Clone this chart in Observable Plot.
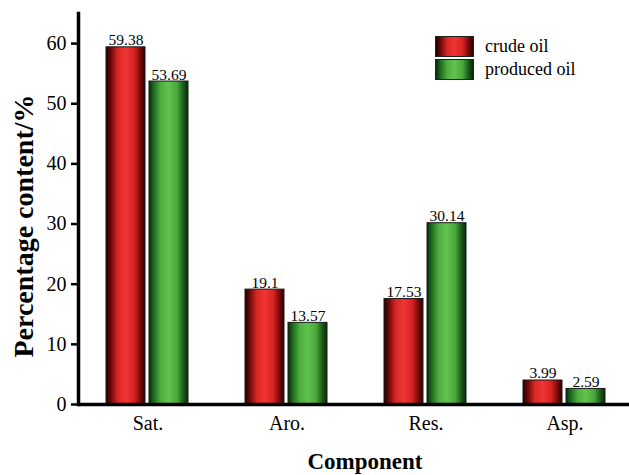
<!DOCTYPE html>
<html><head><meta charset="utf-8">
<script src="https://cdn.jsdelivr.net/npm/d3@7"></script>
<script src="https://cdn.jsdelivr.net/npm/@observablehq/plot@0.6"></script>
<style>
body{margin:0;background:#fff;}
#wrap{position:relative;width:629px;height:475px;overflow:hidden;}
#legend{position:absolute;left:435px;top:36px;font-family:"Liberation Serif",serif;font-size:18px;color:#000;}
.item{display:flex;align-items:center;height:21px;margin-bottom:2px;}
.sw{width:37px;height:19px;border:1px solid #222;margin-right:11px;box-sizing:content-box;}
</style></head><body><div id="wrap"><div id="legend"></div></div>
<script>
const categories = ["Sat.", "Aro.", "Res.", "Asp."];
const series = ["crude oil", "produced oil"];
const crudeOil = [59.38, 19.1, 17.53, 3.99];
const producedOil = [53.69, 13.57, 30.14, 2.59];
const yTicks = [0, 10, 20, 30, 40, 50, 60];
const xTitle = "Component";
const yTitle = "Percentage content/%";

const seriesValues = [crudeOil, producedOil];
const data = categories.flatMap((c, i) => series.map((s, j) => ({category: c, series: s, value: seriesValues[j][i]})));

const gradIds = ["gradRed", "gradGreen"];
const gradStops = [
  [["0", "#220000"], ["0.12", "#6a0808"], ["0.3", "#d82626"], ["0.5", "#f03434"], ["0.72", "#d82424"], ["0.88", "#7a0a0a"], ["1", "#2a0000"]],
  [["0", "#0a2a0a"], ["0.12", "#1e6a1e"], ["0.3", "#4cae40"], ["0.5", "#62c24e"], ["0.72", "#4aa83c"], ["0.88", "#1a5a1a"], ["1", "#082808"]]
];
const serif = "'Liberation Serif', 'Times New Roman', serif";

const plot = Plot.plot({
  width: 629, height: 475,
  marginLeft: 78, marginRight: -5, marginTop: 13, marginBottom: 71,
  style: {fontFamily: serif, fontSize: "20px", color: "#000", background: "#fff", overflow: "visible"},
  fx: {domain: categories, padding: 0, label: null},
  x: {domain: series, paddingInner: 0.09, paddingOuter: 0.63, axis: null},
  y: {domain: [0, 65], label: null},
  color: {domain: series, range: gradIds.map(id => `url(#${id})`)},
  marks: [
    Plot.barY(data, {fx: "category", x: "series", y: "value", fill: "series", stroke: "#1a1a1a", strokeWidth: 1}),
    Plot.text(data, {fx: "category", x: "series", y: "value", text: d => String(d.value), lineAnchor: "bottom", dy: -2, fontSize: 15.5}),
    Plot.ruleY([0], {stroke: "#000", strokeWidth: 3.5}),
    Plot.frame({anchor: "left", facetAnchor: "left", stroke: "#000", strokeWidth: 3.5}),
    Plot.axisY({ticks: yTicks, tickSize: 7, tickPadding: 5, strokeWidth: 2.5, fontSize: 20, label: null}),
    Plot.axisFx({anchor: "bottom", tickSize: 0, tickPadding: 11, fontSize: 20, label: null})
  ]
});

const svg = d3.select(plot);
svg.selectAll("text").style("font-family", serif);
const defs = svg.insert("defs", ":first-child");
gradIds.forEach((id, k) => {
  const g = defs.append("linearGradient").attr("id", id).attr("x1", 0).attr("x2", 1).attr("y1", 0).attr("y2", 0);
  gradStops[k].forEach(([o, c]) => g.append("stop").attr("offset", o).attr("stop-color", c));
});
svg.append("text").text(xTitle).attr("x", 365).attr("y", 469).attr("text-anchor", "middle")
  .style("font-family", serif).attr("font-weight", "bold").attr("font-size", 23).attr("fill", "#000");
svg.append("text").text(yTitle).attr("transform", "translate(33,226) rotate(-90)").attr("text-anchor", "middle")
  .style("font-family", serif).attr("font-weight", "bold").attr("font-size", 28).attr("fill", "#000");

document.getElementById("wrap").prepend(plot);

const legend = d3.select("#legend");
series.forEach((s, k) => {
  const it = legend.append("div").attr("class", "item");
  it.append("div").attr("class", "sw").style("background",
    "linear-gradient(to right," + gradStops[k].map(([o, c]) => `${c} ${o * 100}%`).join(",") + ")");
  it.append("span").text(s);
});
</script></body></html>
